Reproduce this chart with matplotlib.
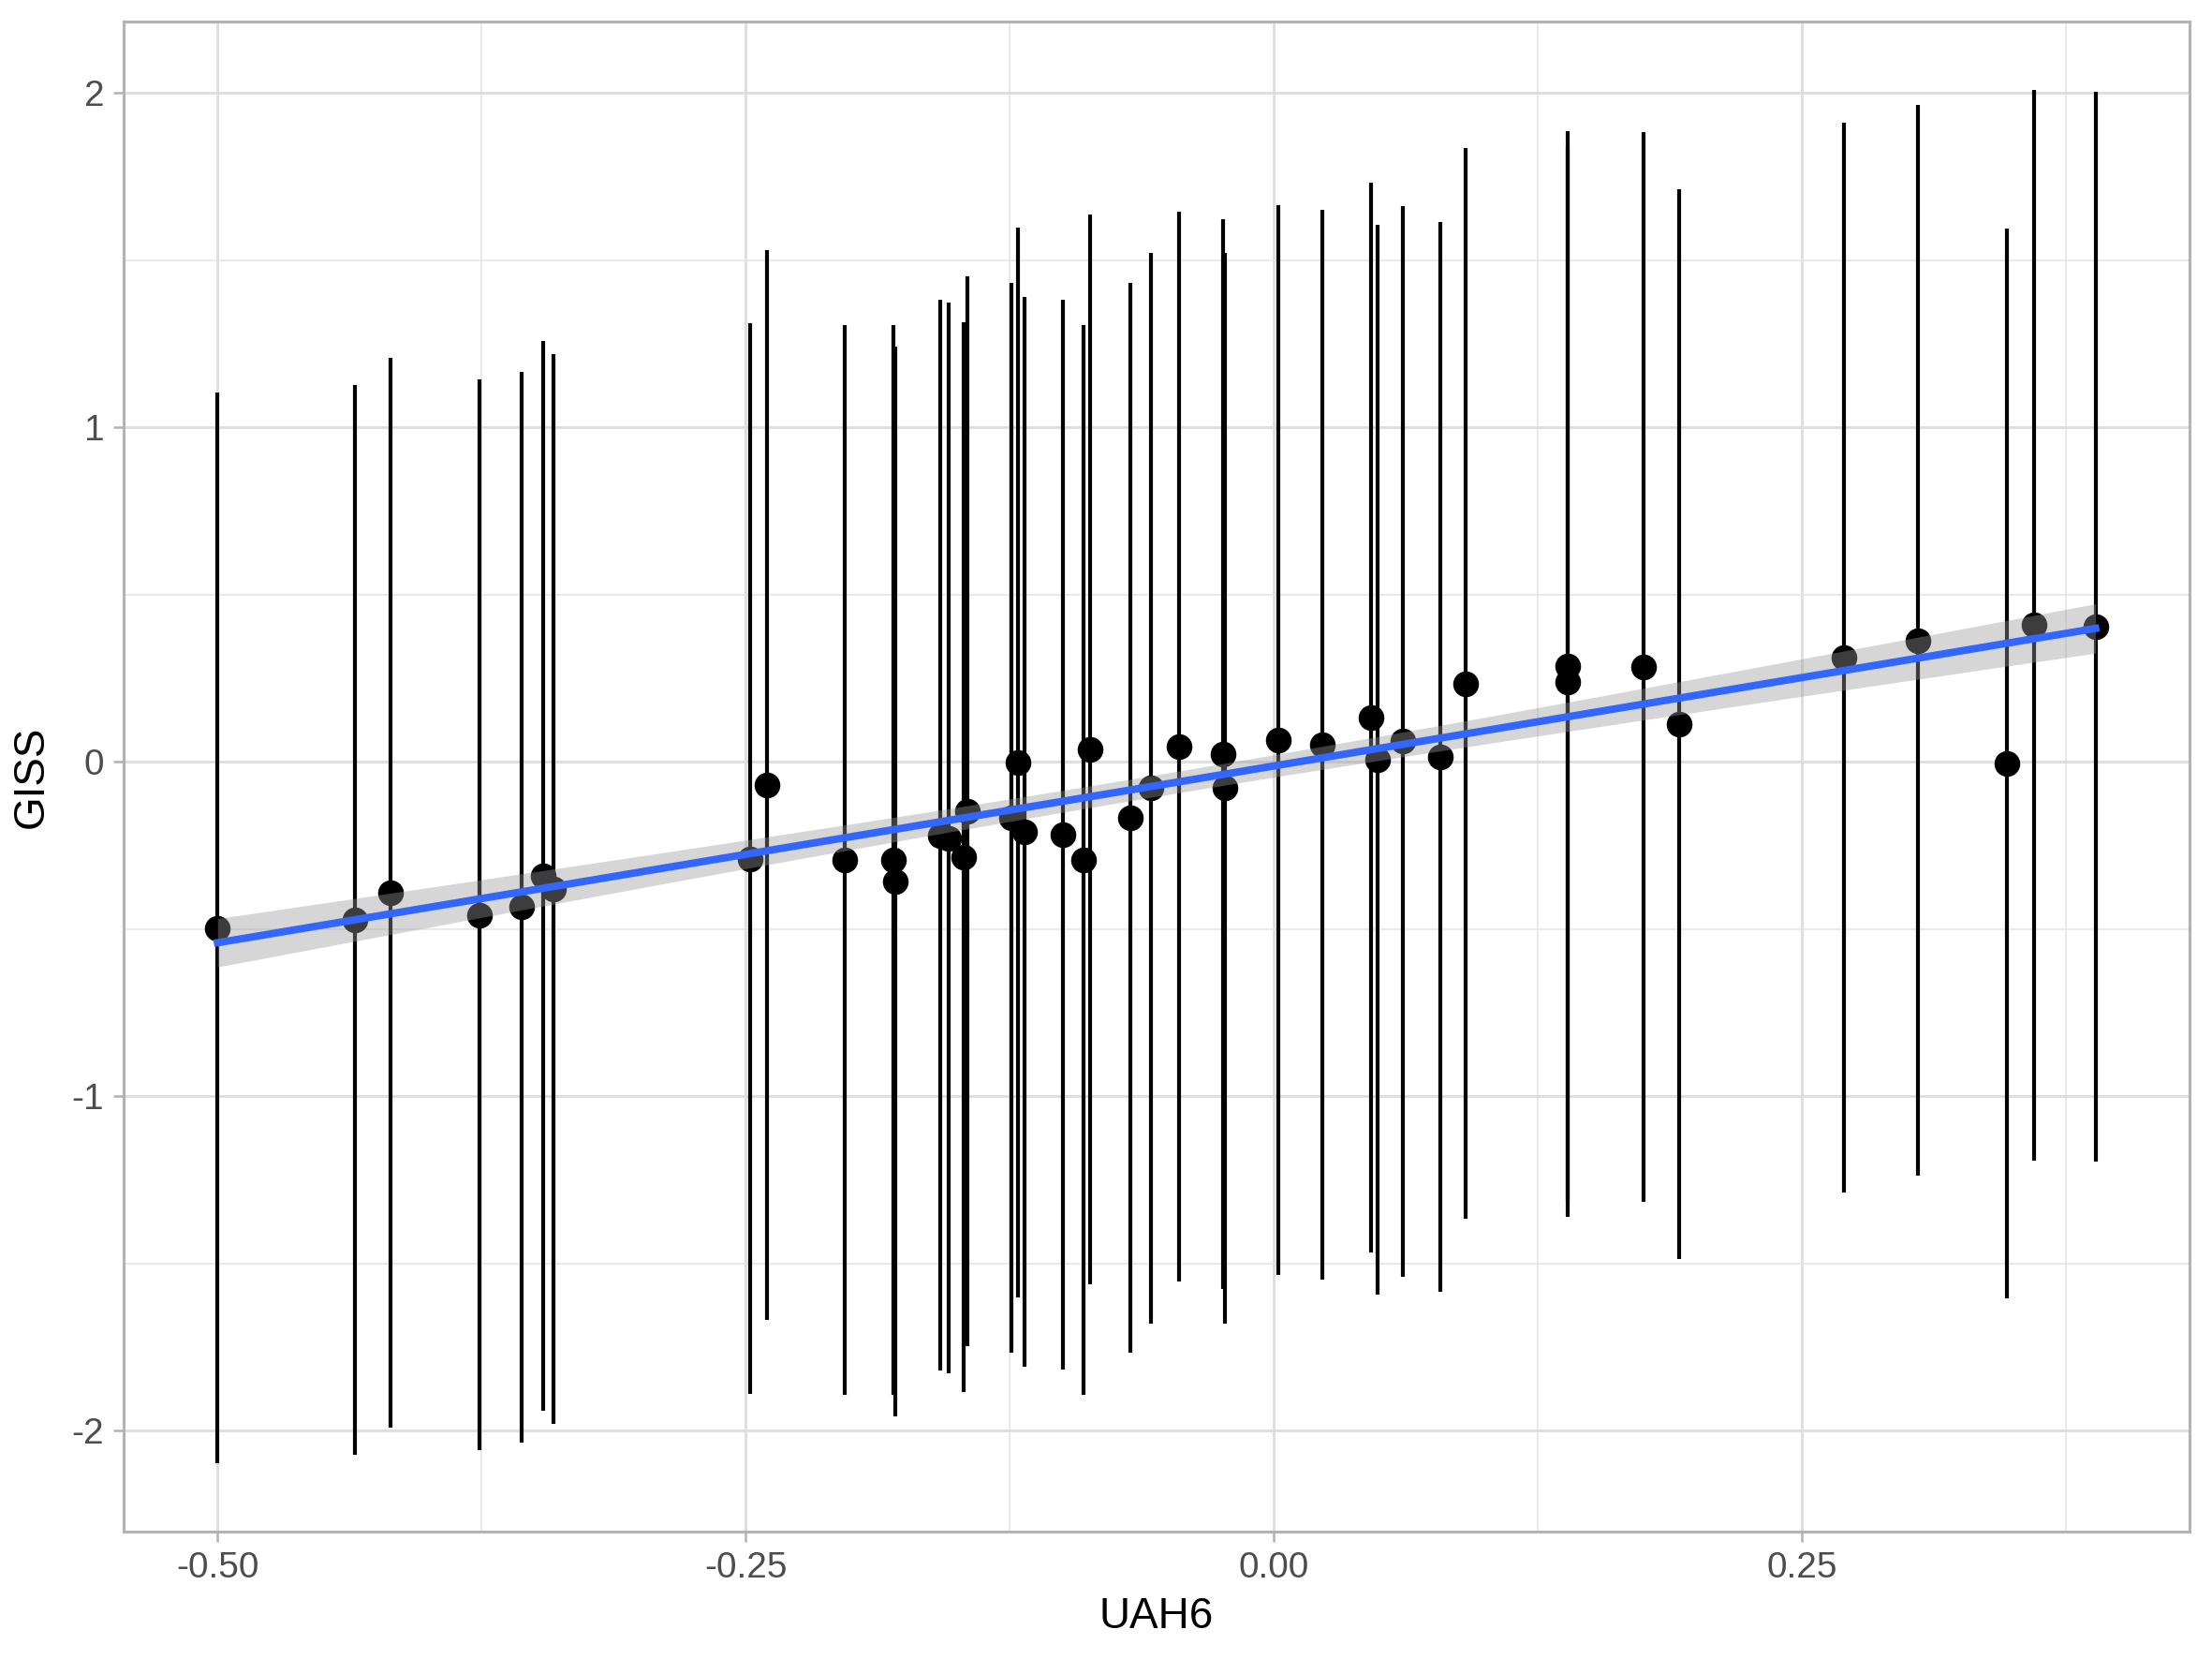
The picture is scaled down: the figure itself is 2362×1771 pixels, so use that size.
import numpy as np
import matplotlib
matplotlib.use("Agg")
import matplotlib.pyplot as plt
from matplotlib.ticker import FixedLocator

# ---- data ----
uah6 = [-0.500, -0.435, -0.418, -0.376, -0.356, -0.346, -0.341, -0.248, -0.240,
        -0.203, -0.180, -0.179, -0.158, -0.154, -0.147, -0.145, -0.124, -0.121,
        -0.118, -0.100, -0.090, -0.087, -0.068, -0.058, -0.045, -0.024, -0.023,
        0.002, 0.023, 0.046, 0.049, 0.061, 0.079, 0.091, 0.139, 0.139, 0.175,
        0.192, 0.270, 0.305, 0.347, 0.360, 0.389]
giss = [-0.496, -0.472, -0.390, -0.457, -0.434, -0.341, -0.380, -0.289, -0.069,
        -0.293, -0.293, -0.357, -0.219, -0.227, -0.285, -0.147, -0.166, -0.002,
        -0.208, -0.218, -0.292, 0.038, -0.166, -0.078, 0.046, 0.024, -0.078,
        0.065, 0.052, 0.133, 0.007, 0.062, 0.016, 0.235, 0.287, 0.239, 0.284,
        0.113, 0.312, 0.364, -0.005, 0.409, 0.404]
err_half = [1.60, 1.60, 1.60, 1.60, 1.60, 1.60, 1.60, 1.60, 1.60, 1.60, 1.60,
            1.60, 1.60, 1.60, 1.60, 1.60, 1.60, 1.60, 1.60, 1.60, 1.60, 1.60,
            1.60, 1.60, 1.60, 1.60, 1.60, 1.60, 1.60, 1.60, 1.60, 1.60, 1.60,
            1.60, 1.60, 1.60, 1.60, 1.60, 1.60, 1.60, 1.60, 1.60, 1.60]
x_ticks = [-0.50, -0.25, 0.00, 0.25]
x_ticklabels = ["-0.50", "-0.25", "0.00", "0.25"]
y_ticks = [-2, -1, 0, 1, 2]
y_ticklabels = ["-2", "-1", "0", "1", "2"]
x_minor = [-0.375, -0.125, 0.125, 0.375]
y_minor = [-1.5, -0.5, 0.5, 1.5]

x = np.array(uah6)
y = np.array(giss)
e = np.array(err_half)
ymin = y - e
ymax = y + e

plt.rcParams['font.family'] = ['Liberation Sans', 'DejaVu Sans']

W, H, DPI = 2362, 1771, 300
fig = plt.figure(figsize=(W / DPI, H / DPI), dpi=DPI)
ax = fig.add_axes([132 / W, 1 - 1635 / H, (2338 - 132) / W, (1635 - 23) / H])

# limits with ggplot-like 5% expansion
xr = x.max() - x.min()
ax.set_xlim(x.min() - 0.05 * xr, x.max() + 0.05 * xr)
ylo, yhi = ymin.min(), ymax.max()
yr = yhi - ylo
ax.set_ylim(ylo - 0.05 * yr, yhi + 0.05 * yr)

# grid
ax.set_axisbelow(True)
ax.xaxis.set_major_locator(FixedLocator(x_ticks))
ax.yaxis.set_major_locator(FixedLocator(y_ticks))
ax.xaxis.set_minor_locator(FixedLocator(x_minor))
ax.yaxis.set_minor_locator(FixedLocator(y_minor))
ax.grid(which='major', color='#DEDEDE', linewidth=0.7)
ax.grid(which='minor', color='#E5E5E5', linewidth=0.4)
ax.set_xticklabels(x_ticklabels)
ax.set_yticklabels(y_ticklabels)

# error bars and points
ax.vlines(x, ymin, ymax, colors='black', linewidth=1.0, zorder=2)
ax.scatter(x, y, s=6.6 ** 2, color='black', linewidths=0, zorder=3)

# linear fit with 95% confidence band
n = len(x)
b1, b0 = np.polyfit(x, y, 1)
resid = y - (b0 + b1 * x)
s = np.sqrt(np.sum(resid ** 2) / (n - 2))
xs = np.linspace(x.min(), x.max(), 80)
fit = b0 + b1 * xs
se = s * np.sqrt(1 / n + (xs - x.mean()) ** 2 / np.sum((x - x.mean()) ** 2))
tq = 2.0195  # t(0.975, df=41)
ax.fill_between(xs, fit - tq * se, fit + tq * se, color='#999999', alpha=0.4,
                linewidth=0, zorder=4)
ax.plot(xs, fit, color='#3366FF', linewidth=1.9, zorder=5)

# styling (theme_light-like)
for sp in ax.spines.values():
    sp.set_color('#B3B3B3')
    sp.set_linewidth(0.75)
ax.tick_params(which='major', length=2.75, width=0.6, color='#B3B3B3',
               labelsize=9.3, labelcolor='#4D4D4D', pad=2.2)
ax.tick_params(which='minor', length=0)

ax.set_xlabel('UAH6', fontsize=11, color='black', labelpad=3)
ax.set_ylabel('GISS', fontsize=11, color='black', labelpad=5)

fig.savefig('out.png', dpi=DPI, facecolor='white')
